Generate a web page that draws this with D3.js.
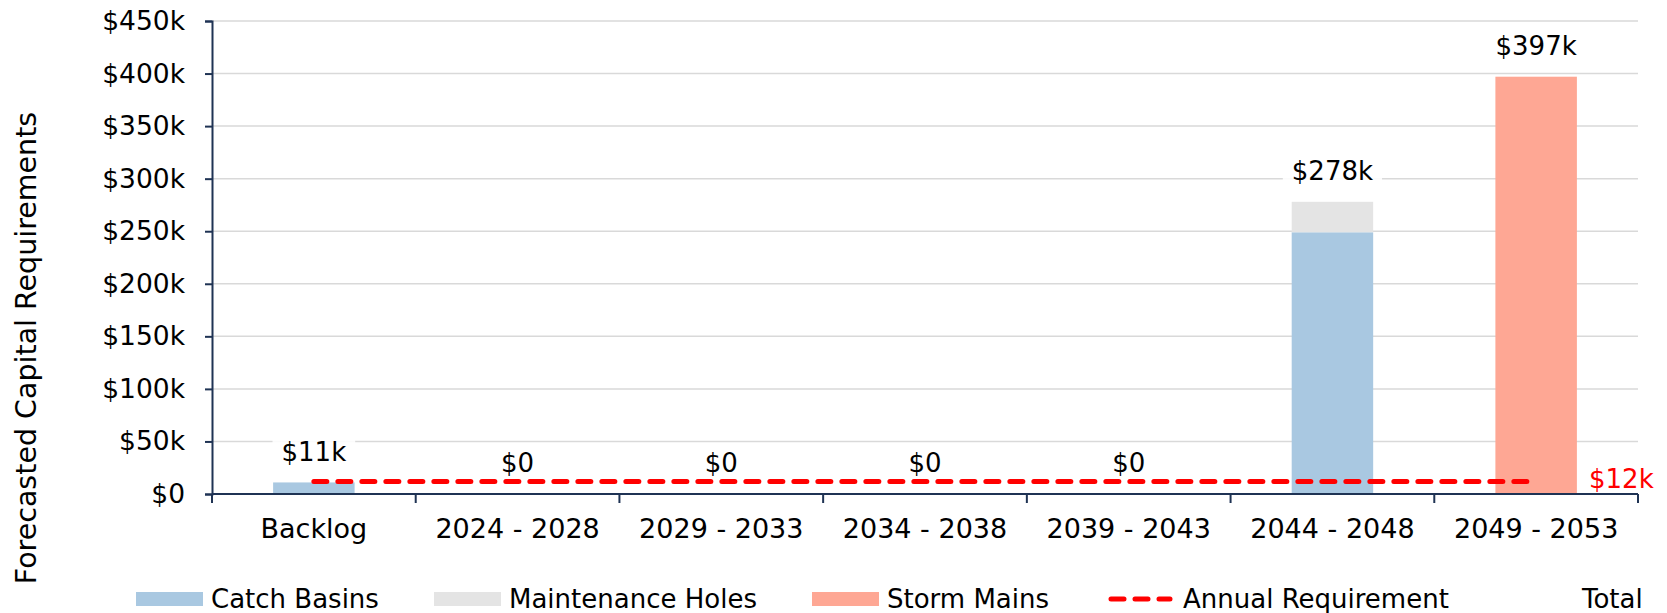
<!DOCTYPE html>
<html>
<head>
<meta charset="utf-8">
<script src="https://cdn.jsdelivr.net/npm/d3@7"></script>
<style>
  html, body { margin: 0; padding: 0; background: #ffffff; }
  svg { display: block; font-family: "DejaVu Sans", Verdana, sans-serif; }
</style>
</head>
<body>
<svg id="chart" width="1667" height="613"></svg>
<script>
// Forecasted capital requirements by period, in $ thousands
const categories = ["Backlog", "2024 - 2028", "2029 - 2033", "2034 - 2038", "2039 - 2043", "2044 - 2048", "2049 - 2053"];
const catchBasins      = [11, 0, 0, 0, 0, 249, 0];
const maintenanceHoles = [0, 0, 0, 0, 0, 29, 0];
const stormMains       = [0, 0, 0, 0, 0, 0, 397];
const annualRequirement = [12, 12, 12, 12, 12, 12, 12];
const yTickValues = [0, 50, 100, 150, 200, 250, 300, 350, 400, 450];

const seriesNames = ["Catch Basins", "Maintenance Holes", "Storm Mains"];
const seriesColors = ["#a9c8e1", "#e4e4e4", "#fea794"];
const lineColor = "#ff0000";
const axisColor = "#1f3354";
const fontFamily = "'DejaVu Sans', Verdana, sans-serif";
const fontSize = 26;

const width = 1667, height = 613;
const margin = { top: 21, right: 29, bottom: 119, left: 212 };
const innerW = width - margin.left - margin.right;
const innerH = height - margin.top - margin.bottom;

const svg = d3.select("#chart");
const g = svg.append("g").attr("transform", `translate(${margin.left},${margin.top})`);

const rows = categories.map((c, i) => ({
  category: c,
  "Catch Basins": catchBasins[i],
  "Maintenance Holes": maintenanceHoles[i],
  "Storm Mains": stormMains[i]
}));
const totals = categories.map((c, i) => catchBasins[i] + maintenanceHoles[i] + stormMains[i]);

const x = d3.scaleBand().domain(categories).range([0, innerW]).paddingInner(0).paddingOuter(0);
const y = d3.scaleLinear().domain([0, 450]).range([innerH, 0]);
const barW = x.bandwidth() * 0.4;
const fmt = v => v === 0 ? "$0" : `$${v}k`;

// gridlines
g.append("g").selectAll("line").data(yTickValues.filter(v => v > 0)).join("line")
  .attr("x1", 0).attr("x2", innerW)
  .attr("y1", d => y(d)).attr("y2", d => y(d))
  .attr("stroke", "#d9d9d9").attr("stroke-width", 1.5);

// stacked bars
const stack = d3.stack().keys(seriesNames);
const stacked = stack(rows);
g.append("g").selectAll("g").data(stacked).join("g")
  .attr("fill", (d, i) => seriesColors[i])
  .selectAll("rect").data(d => d).join("rect")
  .attr("x", d => x(d.data.category) + (x.bandwidth() - barW) / 2)
  .attr("width", barW)
  .attr("y", d => y(d[1]))
  .attr("height", d => y(d[0]) - y(d[1]));

// total labels with soft white backing
const labelG = g.append("g").selectAll("g").data(categories).join("g")
  .attr("transform", (d, i) => `translate(${x(d) + x.bandwidth() / 2},${y(totals[i]) - 31})`);
labelG.append("rect").attr("class", "lbg");
labelG.append("text")
  .attr("text-anchor", "middle").attr("dy", "0.35em")
  .attr("font-size", fontSize).attr("fill", "#000")
  .text((d, i) => fmt(totals[i]));
labelG.each(function () {
  const t = d3.select(this).select("text").node().getBBox();
  d3.select(this).select("rect")
    .attr("x", t.x - 9).attr("y", -19).attr("width", t.width + 18).attr("height", 38)
    .attr("fill", "#ffffff").attr("fill-opacity", 0.88);
});

// annual requirement line
const line = d3.line()
  .x((d, i) => x(categories[i]) + x.bandwidth() / 2)
  .y(d => y(d));
g.append("path").datum(annualRequirement)
  .attr("d", line)
  .attr("fill", "none").attr("stroke", lineColor)
  .attr("stroke-width", 5).attr("stroke-dasharray", "13 11").attr("stroke-linecap", "round");
g.append("text")
  .attr("x", innerW - 49).attr("y", y(annualRequirement[annualRequirement.length - 1]) - 2)
  .attr("dy", "0.35em").attr("font-size", fontSize).attr("fill", lineColor)
  .text(fmt(annualRequirement[annualRequirement.length - 1]));

// axes
const yAxis = g.append("g").call(d3.axisLeft(y).tickValues(yTickValues).tickFormat(fmt).tickSize(7).tickPadding(20));
const xAxis = g.append("g").attr("transform", `translate(0,${innerH})`)
  .call(d3.axisBottom(x).tickSize(0).tickPadding(25));
[yAxis, xAxis].forEach(a => {
  a.attr("font-family", fontFamily).attr("font-size", fontSize);
  a.select(".domain").attr("stroke", axisColor).attr("stroke-width", 2);
  a.selectAll(".tick line").attr("stroke", axisColor).attr("stroke-width", 2);
  a.selectAll("text").attr("fill", "#000");
});
yAxis.attr("font-size", 26.5);
xAxis.attr("font-size", 27);
xAxis.select(".domain").attr("d", `M0,0H${innerW}`);
// category boundary ticks
const bounds = categories.map(c => x(c)).concat([innerW]);
xAxis.append("g").selectAll("line").data(bounds).join("line")
  .attr("x1", d => d).attr("x2", d => d).attr("y1", 0).attr("y2", 9)
  .attr("stroke", axisColor).attr("stroke-width", 2);

// y axis title
svg.append("text")
  .attr("transform", `translate(36,348) rotate(-90)`)
  .attr("text-anchor", "middle").attr("font-size", 28.5).attr("fill", "#000")
  .text("Forecasted Capital Requirements");

// legend
const legendY = 599;
const legendItems = [
  { name: "Catch Basins", type: "rect", color: seriesColors[0], x: 136 },
  { name: "Maintenance Holes", type: "rect", color: seriesColors[1], x: 434 },
  { name: "Storm Mains", type: "rect", color: seriesColors[2], x: 812 },
  { name: "Annual Requirement", type: "line", color: lineColor, x: 1108 },
  { name: "Total", type: "none", color: null, x: 1582 }
];
const lg = svg.append("g").selectAll("g").data(legendItems).join("g")
  .attr("transform", d => `translate(${d.x},${legendY})`);
lg.filter(d => d.type === "rect").append("rect")
  .attr("x", 0).attr("y", -7).attr("width", 67).attr("height", 14)
  .attr("fill", d => d.color);
lg.filter(d => d.type === "line").append("line")
  .attr("x1", 3).attr("x2", 62).attr("y1", 0).attr("y2", 0)
  .attr("stroke", d => d.color).attr("stroke-width", 5)
  .attr("stroke-dasharray", "13 11").attr("stroke-linecap", "round");
lg.append("text")
  .attr("x", d => d.type === "none" ? 0 : 75)
  .attr("dy", "0.35em").attr("font-size", fontSize).attr("fill", "#000")
  .text(d => d.name);
</script>
</body>
</html>
